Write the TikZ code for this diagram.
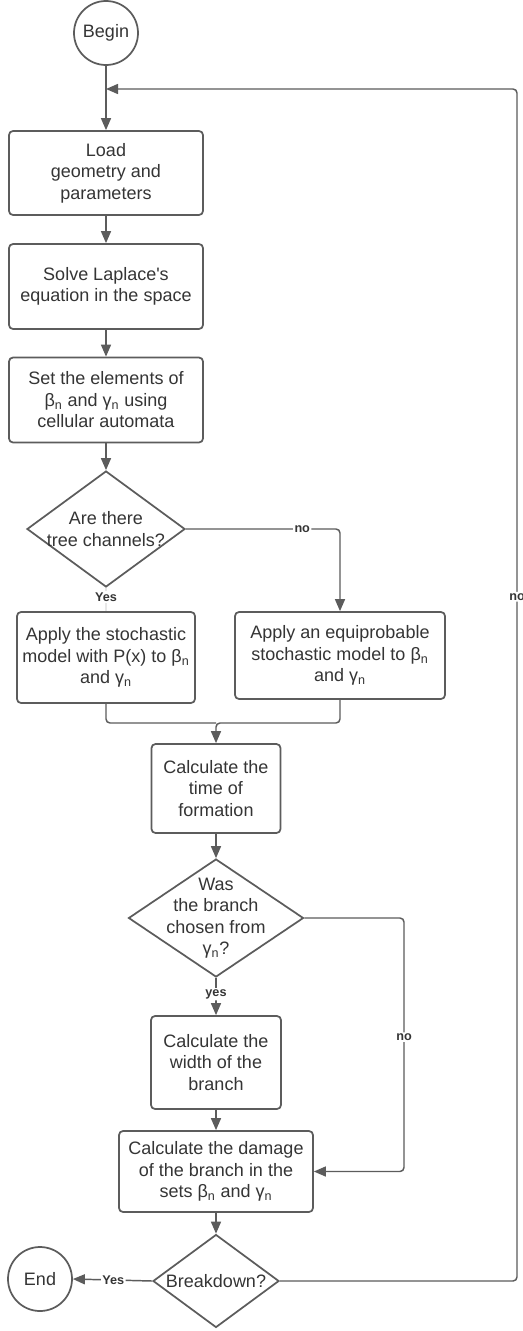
\documentclass[tikz,border=0pt]{standalone}
\usepackage{fontspec}
\setmainfont{Liberation Sans}
\usetikzlibrary{shapes.geometric,arrows.meta}
\definecolor{ln}{HTML}{5C5C5C}
\definecolor{tx}{HTML}{353535}
\begin{document}
\begin{tikzpicture}[x=0.75pt,y=-0.75pt,
  box/.style={draw=ln,line width=1.3pt,rounded corners=3pt,align=center,text=tx,
    font=\fontsize{13.5}{16.1}\selectfont,inner sep=0pt},
  dia/.style={draw=ln,line width=1.3pt,diamond,inner sep=0pt},
  dtext/.style={align=center,text=tx,font=\fontsize{13.5}{16.1}\selectfont,inner sep=0pt},
  term/.style={draw=ln,line width=1.3pt,circle,minimum size=48pt,inner sep=0pt,text=tx,
    font=\fontsize{13.5}{16.1}\selectfont},
  conn/.style={draw=ln,line width=1.1pt,rounded corners=3pt,-{Triangle[length=9pt,width=7.5pt]}},
  plain/.style={draw=ln,line width=1.1pt,rounded corners=3pt},
  lab/.style={fill=white,text=tx,font=\fontsize{9.5}{11}\bfseries\selectfont,inner sep=1pt}
]
\useasboundingbox (0,0) rectangle (523,1331);
\fill[white] (0,0) rectangle (523,1331);

% nodes
\node[term] (begin) at (106,33) {Begin};
\coordinate (join) at (106,89);
\node[box,minimum width=145.5pt,minimum height=63pt] (load) at (106,173) {Load\\geometry and\\parameters};
\node[box,minimum width=145.5pt,minimum height=63.75pt] (solve) at (106,286.5) {Solve Laplace\textquotesingle s\\equation in the space};
\node[box,minimum width=145.5pt,minimum height=63.75pt] (set) at (106,400) {Set the elements of\\β\textsubscript{n} and γ\textsubscript{n} using\\cellular automata};
\node[dia,minimum width=118.5pt,minimum height=87pt] (d1) at (106,529) {};
\node[dtext] (d1t) at (106,529) {Are there\\tree channels?};
\node[box,minimum width=133.5pt,minimum height=68.25pt] (left) at (106,657.5) {Apply the stochastic\\model with P(x) to β\textsubscript{n}\\and γ\textsubscript{n}};
\node[box,minimum width=157.5pt,minimum height=65.25pt] (right) at (340,655.5) {Apply an equiprobable\\stochastic model to β\textsubscript{n}\\and γ\textsubscript{n}};
\node[box,minimum width=96.75pt,minimum height=66.75pt] (time) at (216,788.5) {Calculate the\\time of\\formation};
\node[dia,minimum width=131.25pt,minimum height=88.5pt] (d2) at (216,918) {};
\node[dtext] (d2t) at (216,918) {Was\\the branch\\chosen from\\γ\textsubscript{n}?};
\node[box,minimum width=97.5pt,minimum height=69.75pt] (width) at (216,1062.5) {Calculate the\\width of the\\branch};
\node[box,minimum width=145.5pt,minimum height=60.75pt] (damage) at (216,1171.5) {Calculate the damage\\of the branch in the\\sets β\textsubscript{n} and γ\textsubscript{n}};
\node[dia,minimum width=94.5pt,minimum height=69.75pt] (d3) at (216,1281) {};
\node[dtext] (d3t) at (216,1281) {Breakdown?};
\node[term] (end) at (40,1279) {End};

% connectors
\draw[conn] (begin) -- (load);
\draw[conn] (load) -- (solve);
\draw[conn] (solve) -- (set);
\draw[conn] (set) -- (d1.north);
\draw[conn] (d1.east) -- node[lab,pos=0.755]{no} (340,529) -- (right.north);
\draw[draw=ln!15,line width=0.8pt] (d1.south) -- node[lab,pos=0.4]{Yes} (left.north);
\draw[plain] (left.south) -- (106,723) -- (216,723);
\draw[conn] (right.south) -- (340,723) -- (216,723) -- (time.north);
\draw[conn] (time) -- (d2.north);
\draw[conn] (d2.south) -- node[lab,pos=0.44]{yes} (width.north);
\draw[conn] (d2.east) -- (404,918) -- node[lab,pos=0.47]{no} (404,1171.5) -- (damage.east);
\draw[conn] (width) -- (damage);
\draw[conn] (damage) -- (d3.north);
\draw[conn] (d3.west) -- node[lab,pos=0.49]{Yes} (end.east);
\draw[conn] (d3.east) -- (517,1281) -- node[lab,pos=0.574]{no} (517,89) -- (join);
\end{tikzpicture}
\end{document}
